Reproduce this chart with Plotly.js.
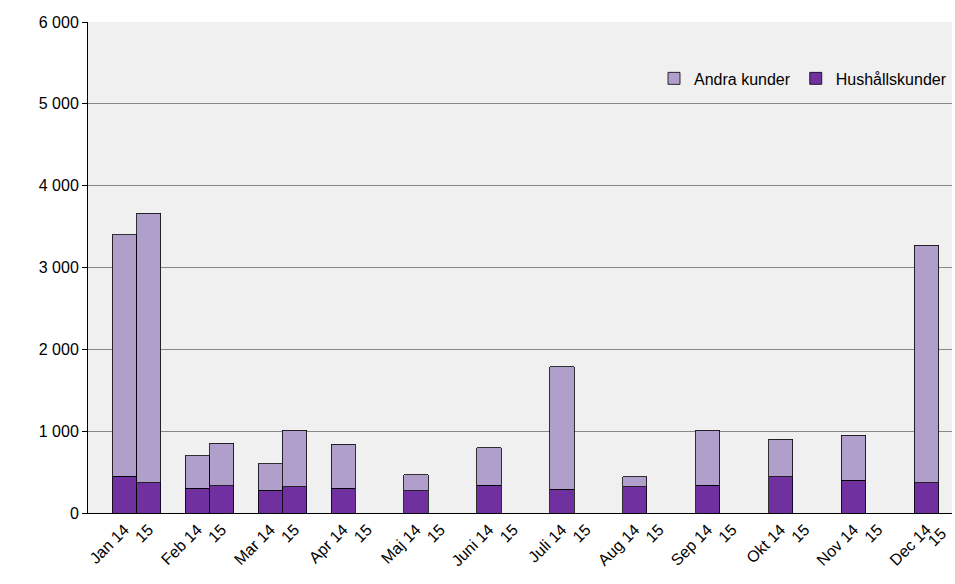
<!DOCTYPE html>
<html>
<head>
<meta charset="utf-8">
<script src="https://cdn.plot.ly/plotly-3.0.0.min.js"></script>
<style>body{margin:0;background:#fff}#chart{width:955px;height:584px}</style>
</head>
<body>
<div id="chart"></div>
<script>
const months = ['Jan', 'Feb', 'Mar', 'Apr', 'Maj', 'Juni', 'Juli', 'Aug', 'Sep', 'Okt', 'Nov', 'Dec'];
// pairs: 14, 15 per month
const hushall = [450, 370, 300, 330, 280, 320, 300, 0, 270, 0, 340, 0, 290, 0, 320, 0, 340, 0, 440, 0, 400, 0, 370, 0];
const andra = [2950, 3290, 400, 520, 320, 690, 540, 0, 200, 0, 460, 0, 1500, 0, 120, 0, 670, 0, 460, 0, 550, 0, 2900, 0];

// each month takes 3 slots: year 14, year 15, gap
const xs = hushall.map(function(v, i) { return Math.floor(i / 2) * 3 + 1 + (i % 2); });
const tickText = [];
months.forEach(function(m) { tickText.push(m + ' 14'); tickText.push('15'); });

const line = {color: '#000', width: 0.8};
const data = [
	{x: xs, y: hushall, type: 'bar', width: 1, name: 'Hushållskunder', marker: {color: '#7030a0', line: line}},
	{x: xs, y: andra, type: 'bar', width: 1, name: 'Andra kunder', marker: {color: '#b09fca', line: line}}
];

// last tick label sits on the plot edge and gets dropped, so draw it as an annotation
const lastX = xs[xs.length - 1];

const layout = {
	width: 955, height: 584,
	barmode: 'stack',
	separators: ', ',
	font: {family: 'Liberation Sans, Arial, sans-serif', size: 16, color: '#000'},
	margin: {l: 88, r: 3, t: 22, b: 71},
	plot_bgcolor: '#f0f0f0', paper_bgcolor: '#fff',
	showlegend: true,
	legend: {orientation: 'h', x: 1, xanchor: 'right', y: 0.885, yanchor: 'middle', traceorder: 'reversed', bgcolor: 'rgba(0,0,0,0)', font: {size: 16}},
	xaxis: {tickvals: xs, ticktext: tickText, tickangle: -45, range: [-0.5, 35.05], showline: true, linecolor: '#000', ticks: '', zeroline: false},
	yaxis: {range: [0, 6000], dtick: 1000, tickformat: ',d', showline: true, linecolor: '#000', gridcolor: '#888', ticks: 'outside', ticklen: 5, tickcolor: '#000', zeroline: false},
	annotations: [{x: lastX, y: 0, xref: 'x', yref: 'y', text: tickText[tickText.length - 1], showarrow: false, textangle: -45, xanchor: 'right', yanchor: 'top', xshift: 1, yshift: -9, font: {size: 16}}]
};

Plotly.newPlot('chart', data, layout, {displayModeBar: false});
</script>
</body>
</html>
